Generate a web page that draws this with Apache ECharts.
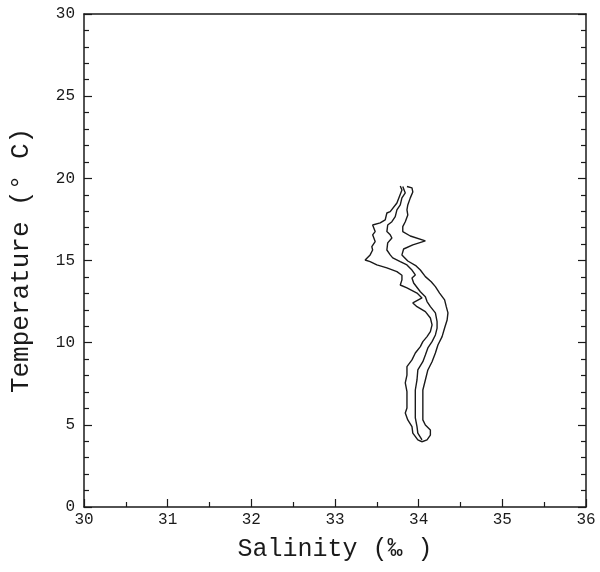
<!DOCTYPE html>
<html>
<head>
<meta charset="utf-8">
<script src="https://cdn.jsdelivr.net/npm/echarts@6/dist/echarts.min.js"></script>
<style>
  html, body { margin: 0; padding: 0; background: #fff; }
  #chart { width: 600px; height: 572px; }
</style>
</head>
<body>
<div id="chart"></div>
<script>
// T-S curves: [salinity, temperature] top to bottom
var leftCurve = [
  [33.78, 19.54], [33.80, 19.29], [33.74, 18.50], [33.66, 17.97], [33.62, 17.89],
  [33.60, 17.47], [33.54, 17.29], [33.45, 17.16], [33.48, 16.76], [33.45, 16.56],
  [33.48, 16.15], [33.44, 15.84], [33.45, 15.64], [33.42, 15.34], [33.36, 15.03],
  [33.42, 14.93], [33.50, 14.73], [33.62, 14.55], [33.74, 14.32], [33.80, 14.10],
  [33.80, 13.82], [33.78, 13.51], [33.86, 13.33], [33.98, 13.02], [34.04, 12.72],
  [33.93, 12.42], [33.98, 12.19], [34.08, 11.89], [34.14, 11.50], [34.16, 11.08],
  [34.14, 10.67], [34.10, 10.37], [34.05, 10.06], [34.02, 9.76], [33.96, 9.37],
  [33.92, 8.95], [33.86, 8.54], [33.86, 8.03], [33.84, 7.55], [33.86, 7.02],
  [33.86, 6.51], [33.86, 6.03], [33.84, 5.72], [33.87, 5.30], [33.92, 4.89],
  [33.93, 4.50], [33.99, 4.08], [34.04, 3.97]
];
var meanCurve = [
  [33.81, 19.50], [33.84, 19.11], [33.80, 18.81], [33.78, 18.38], [33.74, 18.08],
  [33.72, 17.67], [33.68, 17.36], [33.63, 17.16], [33.62, 16.76], [33.66, 16.56],
  [33.68, 16.37], [33.63, 16.07], [33.62, 15.64], [33.66, 15.34], [33.69, 15.16],
  [33.78, 14.93], [33.86, 14.73], [33.92, 14.42], [33.96, 14.12], [33.92, 13.94],
  [33.94, 13.63], [34.02, 13.10], [34.08, 12.80], [34.10, 12.50], [34.14, 12.19],
  [34.20, 11.81], [34.22, 11.28], [34.22, 10.89], [34.20, 10.47], [34.16, 10.06],
  [34.11, 9.68], [34.08, 9.25], [34.05, 8.84], [33.99, 8.34], [33.98, 7.73],
  [33.96, 7.12], [33.96, 6.51], [33.96, 5.90], [33.96, 5.42], [33.98, 4.89],
  [33.99, 4.50], [34.04, 4.08]
];
var rightCurve = [
  [33.86, 19.50], [33.92, 19.42], [33.93, 19.17], [33.90, 18.81], [33.87, 18.38],
  [33.86, 18.08], [33.87, 17.77], [33.84, 17.36], [33.81, 17.06], [33.81, 16.76],
  [33.90, 16.49], [34.08, 16.19], [33.93, 15.95], [33.82, 15.70], [33.80, 15.34],
  [33.87, 14.97], [33.97, 14.67], [34.02, 14.42], [34.08, 14.02], [34.15, 13.71],
  [34.20, 13.41], [34.25, 13.02], [34.31, 12.60], [34.33, 12.19], [34.35, 11.81],
  [34.34, 11.38], [34.31, 10.89], [34.28, 10.37], [34.23, 9.86], [34.20, 9.37],
  [34.16, 8.84], [34.11, 8.34], [34.08, 7.73], [34.05, 7.12], [34.05, 6.51],
  [34.05, 5.90], [34.05, 5.30], [34.08, 4.99], [34.14, 4.69], [34.14, 4.38],
  [34.10, 4.08], [34.04, 3.97]
];

var xName = 'Salinity (‰ )'
var yName = 'Temperature (° C)'

var ink = '#1a1a1a'
var mono = '"Liberation Mono", "DejaVu Sans Mono", monospace'

var chart = echarts.init(document.getElementById('chart'))

function line(data) {
  return {
    type: 'line',
    data: data,
    xAxisIndex: 0,
    yAxisIndex: 0,
    showSymbol: false,
    smooth: false,
    lineStyle: { color: ink, width: 1.4 },
    animation: false,
  }
}

var option = {
  animation: false,
  grid: { left: 84, right: 14, top: 14, bottom: 65 },
  xAxis: [
    {
      type: 'value',
      min: 30,
      max: 36,
      interval: 1,
      name: xName,
      nameLocation: 'middle',
      nameGap: 30,
      nameTextStyle: { fontFamily: mono, fontSize: 25, color: ink },
      axisLine: { lineStyle: { color: ink, width: 1.5 } },
      axisTick: { inside: true, length: 8, lineStyle: { color: ink, width: 1.2 } },
      minorTick: { show: true, splitNumber: 2, length: 5, lineStyle: { color: ink, width: 1.2 } },
      axisLabel: { fontFamily: mono, fontSize: 16, color: ink, margin: 5 },
      splitLine: { show: false },
    },
    {
      type: 'value',
      position: 'top',
      min: 30,
      max: 36,
      interval: 1,
      axisLine: { show: true, onZero: false, lineStyle: { color: ink, width: 1.5 } },
      axisTick: { show: false },
      axisLabel: { show: false },
      splitLine: { show: false },
    },
  ],
  yAxis: [
    {
      type: 'value',
      min: 0,
      max: 30,
      interval: 5,
      name: yName,
      nameLocation: 'middle',
      nameRotate: 90,
      nameGap: 50,
      nameTextStyle: { fontFamily: mono, fontSize: 26, color: ink },
      axisLine: { show: true, lineStyle: { color: ink, width: 1.5 } },
      axisTick: { show: true, inside: true, length: 8, lineStyle: { color: ink, width: 1.2 } },
      minorTick: { show: true, splitNumber: 5, length: 5, lineStyle: { color: ink, width: 1.2 } },
      axisLabel: { fontFamily: mono, fontSize: 16, color: ink, margin: 9 },
      splitLine: { show: false },
    },
    {
      type: 'value',
      position: 'right',
      min: 0,
      max: 30,
      interval: 5,
      axisLine: { show: true, onZero: false, lineStyle: { color: ink, width: 1.5 } },
      axisTick: { show: true, inside: true, length: 8, lineStyle: { color: ink, width: 1.2 } },
      minorTick: { show: true, splitNumber: 5, length: 5, lineStyle: { color: ink, width: 1.2 } },
      axisLabel: { show: false },
      splitLine: { show: false },
    },
  ],
  series: [line(leftCurve), line(meanCurve), line(rightCurve)],
}

chart.setOption(option)
</script>
</body>
</html>
